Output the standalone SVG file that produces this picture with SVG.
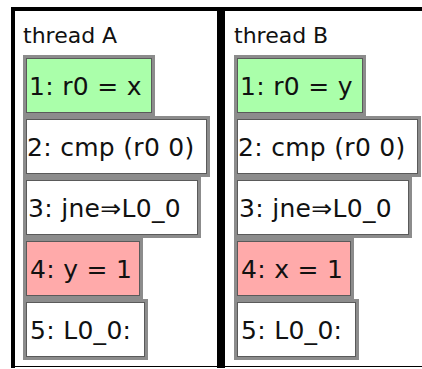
<svg xmlns="http://www.w3.org/2000/svg" width="422" height="369" viewBox="0 0 422 369">
<style>
.t{font-family:"DejaVu Sans","Verdana",sans-serif;font-size:25px;letter-spacing:0.3px;fill:#111}
.h{font-family:"DejaVu Sans","Verdana",sans-serif;font-size:22px;fill:#111}
.b{stroke:#8c8c8c;stroke-width:3}
.i{fill:none;stroke:#5a5a5a;stroke-width:1}
.w{fill:#fff}.g{fill:#aaffaa}.p{fill:#ffaaaa}
</style>
<rect width="422" height="369" fill="#fff"/>
<g id="frame">
<rect x="11" y="7" width="411" height="4" fill="#000"/>
<rect x="11" y="7" width="4" height="361" fill="#000"/>
<rect x="217" y="7" width="8" height="361" fill="#000"/>
<rect x="11" y="366" width="411" height="1" fill="#000"/>
</g>
<g id="threadA">
<text class="h" x="23" y="43">thread A</text>
<g id="a1"><rect class="b g" x="24.5" y="56.5" width="129" height="58"/><rect class="i" x="26.5" y="58.5" width="125" height="54"/><text class="t" x="29" y="95">1: r0 = x</text></g>
<g id="a2"><rect class="b w" x="24.5" y="117.5" width="184" height="58"/><rect class="i" x="26.5" y="119.5" width="180" height="54"/><text class="t" x="27" y="156">2: cmp (r0 0)</text></g>
<g id="a3"><rect class="b w" x="24.5" y="178.5" width="175" height="58"/><rect class="i" x="26.5" y="180.5" width="171" height="54"/><text class="t" x="28" y="217">3: jne⇒L0_0</text></g>
<g id="a4"><rect class="b p" x="24.5" y="239.5" width="117" height="58"/><rect class="i" x="26.5" y="241.5" width="113" height="54"/><text class="t" x="30" y="278">4: y = 1</text></g>
<g id="a5"><rect class="b w" x="24.5" y="300.5" width="122" height="58"/><rect class="i" x="26.5" y="302.5" width="118" height="54"/><text class="t" x="30" y="339">5: L0_0:</text></g>
</g>
<g id="threadB">
<text class="h" x="234" y="43">thread B</text>
<g id="b1"><rect class="b g" x="235.5" y="56.5" width="129" height="58"/><rect class="i" x="237.5" y="58.5" width="125" height="54"/><text class="t" x="240" y="95">1: r0 = y</text></g>
<g id="b2"><rect class="b w" x="235.5" y="117.5" width="184" height="58"/><rect class="i" x="237.5" y="119.5" width="180" height="54"/><text class="t" x="238" y="156">2: cmp (r0 0)</text></g>
<g id="b3"><rect class="b w" x="235.5" y="178.5" width="175" height="58"/><rect class="i" x="237.5" y="180.5" width="171" height="54"/><text class="t" x="239" y="217">3: jne⇒L0_0</text></g>
<g id="b4"><rect class="b p" x="235.5" y="239.5" width="117" height="58"/><rect class="i" x="237.5" y="241.5" width="113" height="54"/><text class="t" x="241" y="278">4: x = 1</text></g>
<g id="b5"><rect class="b w" x="235.5" y="300.5" width="122" height="58"/><rect class="i" x="237.5" y="302.5" width="118" height="54"/><text class="t" x="241" y="339">5: L0_0:</text></g>
</g>
<g id="connectors"/>
</svg>
